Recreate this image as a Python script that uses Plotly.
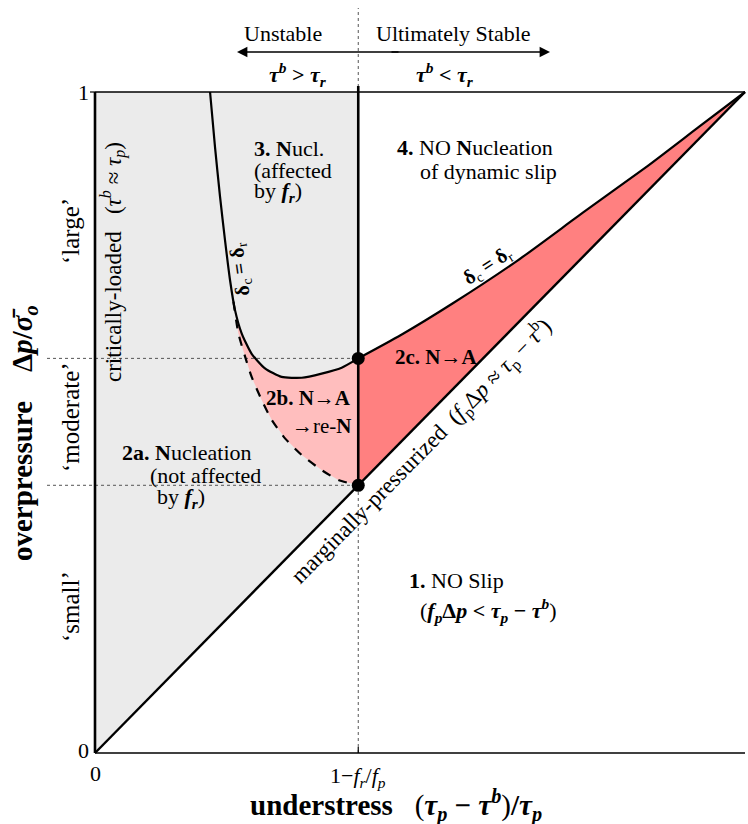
import plotly.graph_objects as go

# ---------------- data ----------------
x_split = 0.405          # 1 - f_r/f_p
y_mid_pt = 0.597         # upper junction point (delta_c = delta_r meets x_split)
y_low_pt = 0.405         # lower junction point (on the diagonal)

# delta_c = delta_r curve, unstable side (solid)
crit_x = [0.177, 0.1846, 0.1923, 0.2, 0.2077, 0.2154, 0.2256, 0.241, 0.2615, 0.287, 0.318, 0.3487, 0.3795, 0.405]
crit_y = [1.0, 0.917, 0.842, 0.776, 0.7156, 0.670, 0.635, 0.604, 0.582, 0.569, 0.5677, 0.574, 0.583, 0.597]

# delta_c = delta_r curve, stable side (solid)
right_x = [0.405, 0.47, 0.55, 0.65, 0.75, 0.85, 0.93, 1.0]
right_y = [0.597, 0.632, 0.68, 0.745, 0.817, 0.888, 0.948, 1.0]

# dashed boundary (2a / 2b)
dash_x = [0.213, 0.2205, 0.2308, 0.241, 0.2564, 0.2718, 0.2923, 0.318, 0.3487, 0.3744, 0.405]
dash_y = [0.683, 0.635, 0.600, 0.569, 0.534, 0.504, 0.476, 0.4508, 0.428, 0.413, 0.405]

# diagonal (marginally pressurized)
diag_x = [0.0, 1.0]
diag_y = [0.0, 1.0]

FONT = "Liberation Serif"
GRAY = "#EBEBEB"
PINK_L = "#FFBEBE"
PINK_D = "#FF8080"

# pixel -> data helpers for text placement
def X(px):
    return (px - 95) / 650.0

def Y(py):
    return (753 - py) / 661.0

fig = go.Figure()

# ---------------- fills ----------------
fig.add_trace(go.Scatter(
    x=[0, 0, x_split, x_split, 0], y=[0, 1, 1, x_split, 0],
    fill="toself", fillcolor=GRAY, line=dict(width=0), mode="lines", hoverinfo="skip"))

b_x = [dash_x[0]] + [cx for cx, cy in zip(crit_x, crit_y) if cy < dash_y[0]]
b_y = [dash_y[0]] + [cy for cy in crit_y if cy < dash_y[0]]
b_x += [x_split] + dash_x[::-1]
b_y += [y_low_pt] + dash_y[::-1]
fig.add_trace(go.Scatter(x=b_x, y=b_y, fill="toself", fillcolor=PINK_L,
                         line=dict(width=0), mode="lines", hoverinfo="skip"))

c_x = [x_split] + right_x + [x_split]
c_y = [y_low_pt] + right_y + [y_low_pt]
fig.add_trace(go.Scatter(x=c_x, y=c_y, fill="toself", fillcolor=PINK_D,
                         line=dict(width=0), mode="lines", hoverinfo="skip"))

# ---------------- dotted guide lines ----------------
dot = dict(color="#555555", width=1, dash="dot")
fig.add_trace(go.Scatter(x=[x_split, x_split], y=[0, Y(8)], mode="lines", line=dot, hoverinfo="skip"))
fig.add_trace(go.Scatter(x=[X(47), x_split], y=[y_mid_pt, y_mid_pt], mode="lines", line=dot, hoverinfo="skip"))
fig.add_trace(go.Scatter(x=[X(47), x_split], y=[y_low_pt, y_low_pt], mode="lines", line=dot, hoverinfo="skip"))

# ---------------- solid frame lines ----------------
blk = "black"
fig.add_trace(go.Scatter(x=[0, 1], y=[1, 1], mode="lines", line=dict(color=blk, width=1.6), hoverinfo="skip"))
fig.add_trace(go.Scatter(x=[0, 1], y=[0, 0], mode="lines", line=dict(color=blk, width=1.6), hoverinfo="skip"))
fig.add_trace(go.Scatter(x=[0, 0], y=[0, 1], mode="lines", line=dict(color=blk, width=2.6), hoverinfo="skip"))
fig.add_trace(go.Scatter(x=diag_x, y=diag_y, mode="lines", line=dict(color=blk, width=2.4), hoverinfo="skip"))
fig.add_trace(go.Scatter(x=[x_split, x_split], y=[y_low_pt, Y(86)], mode="lines",
                         line=dict(color=blk, width=2.6), hoverinfo="skip"))
# small ticks
fig.add_trace(go.Scatter(x=[x_split, x_split], y=[0, Y(747)], mode="lines", line=dict(color=blk, width=1.2), hoverinfo="skip"))
fig.add_trace(go.Scatter(x=[X(90), 0], y=[1, 1], mode="lines", line=dict(color=blk, width=1.2), hoverinfo="skip"))

# ---------------- curves ----------------
fig.add_trace(go.Scatter(x=crit_x, y=crit_y, mode="lines",
                         line=dict(color=blk, width=2.2, shape="spline", smoothing=0.6), hoverinfo="skip"))
fig.add_trace(go.Scatter(x=right_x, y=right_y, mode="lines",
                         line=dict(color=blk, width=2.2, shape="spline", smoothing=0.6), hoverinfo="skip"))
fig.add_trace(go.Scatter(x=dash_x, y=dash_y, mode="lines",
                         line=dict(color=blk, width=2.2, dash="dash", shape="spline", smoothing=0.6), hoverinfo="skip"))

# junction points
fig.add_trace(go.Scatter(x=[x_split, x_split], y=[y_mid_pt, y_low_pt], mode="markers",
                         marker=dict(color=blk, size=13), hoverinfo="skip"))

# ---------------- annotations ----------------
ann = []

def T(px, py, text, size=22, xanchor="center", angle=0, color="black"):
    ann.append(dict(x=X(px), y=Y(py), xref="x", yref="y", text=text, showarrow=False,
                    xanchor=xanchor, yanchor="middle", textangle=angle,
                    font=dict(family=FONT, size=size, color=color)))

def bi(s):
    return "<b><i>" + s + "</i></b>"

# top labels
T(283, 33, "Unstable")
T(453, 33, "Ultimately Stable")
T(298, 74, bi("τ") + "<sup>" + bi("b") + "</sup><b> > </b>" + bi("τ") + "<sub>" + bi("r") + "</sub>")
T(445, 74, bi("τ") + "<sup>" + bi("b") + "</sup><b> < </b>" + bi("τ") + "<sub>" + bi("r") + "</sub>")

# double arrow
ann.append(dict(x=X(237), y=Y(52), ax=X(400), ay=Y(52), xref="x", yref="y", axref="x", ayref="y",
                text="", showarrow=True, arrowhead=2, arrowsize=1.3, arrowwidth=1.6, arrowcolor="black"))
ann.append(dict(x=X(550), y=Y(52), ax=X(390), ay=Y(52), xref="x", yref="y", axref="x", ayref="y",
                text="", showarrow=True, arrowhead=2, arrowsize=1.3, arrowwidth=1.6, arrowcolor="black"))

# region labels
T(252, 148, "<b>3. N</b>ucl.", xanchor="left")
T(252, 170, "(affected", xanchor="left")
T(252, 192, "by " + bi("f") + "<sub>" + bi("r") + "</sub>)", xanchor="left")

T(395, 147, "<b>4.</b> NO <b>N</b>ucleation", xanchor="left")
T(418, 171, "of dynamic slip", xanchor="left")

T(436, 357, "<b>2c. N→A</b>", size=21)
T(353, 398, "<b>2b. N→A</b>", size=21, xanchor="right")
T(353, 426, "→re-<b>N</b>", size=21, xanchor="right")

T(120, 452, "<b>2a. N</b>ucleation", xanchor="left")
T(148, 475, "(not affected", xanchor="left")
T(155, 498, "by " + bi("f") + "<sub>" + bi("r") + "</sub>)", xanchor="left")

T(407, 580, "<b>1.</b> NO Slip", xanchor="left")
T(418, 610, "(" + bi("f") + "<sub>" + bi("p") + "</sub><b>Δ</b>" + bi("p") + "<b> < </b>" + bi("τ")
  + "<sub>" + bi("p") + "</sub><b> − </b>" + bi("τ") + "<sup>" + bi("b") + "</sup>)", xanchor="left")

# curve / line labels
T(487, 266, "<b>δ</b><sub>c</sub><b> = δ</b><sub>r</sub>", size=20, angle=-33)
T(240, 270, "<b>δ</b><sub>c</sub><b> = δ</b><sub>r</sub>", size=20, angle=-98)
T(421, 451, "marginally-pressurized  (" + "<i>f</i><sub>p</sub>Δ<i>p</i> ≈ <i>τ</i><sub>p</sub> − <i>τ</i><sup>b</sup>)",
  size=23, angle=-45.5)
T(113, 262, "critically-loaded   (<i>τ</i><sup><i>b</i></sup> ≈ <i>τ</i><sub><i>p</i></sub>)", size=23, angle=-90)

# overpressure categories
T(70, 231, "‘large’", size=25, angle=-90)
T(70, 417, "‘moderate’", size=25, angle=-90)
T(70, 607, "‘small’", size=25, angle=-90)

# ticks
T(91, 92, "1", xanchor="right")
T(91, 750, "0", xanchor="right")
T(95, 773, "0")
T(358, 777, "1−" + "<i>f</i><sub><i>r</i></sub>/<i>f</i><sub><i>p</i></sub>")

# axis titles
T(396, 805, "<b>understress</b>   (" + bi("τ") + "<sub>" + bi("p") + "</sub><b> − </b>" + bi("τ")
  + "<sup>" + bi("b") + "</sup>)<b>/</b>" + bi("τ") + "<sub>" + bi("p") + "</sub>", size=29)
T(24, 433, "<b>overpressure</b>    <b>Δ</b>" + bi("p") + "<b>/</b>" + bi("σ̄") + "<sub>" + bi("o") + "</sub>",
  size=29, angle=-90)

fig.update_layout(
    width=748, height=824,
    margin=dict(l=0, r=0, t=0, b=0),
    paper_bgcolor="white", plot_bgcolor="white",
    showlegend=False,
    xaxis=dict(range=[X(0), X(748)], visible=False, fixedrange=True),
    yaxis=dict(range=[Y(824), Y(0)], visible=False, fixedrange=True),
    annotations=ann,
)

fig.write_html("out.html", config={"displayModeBar": False},
               post_script="document.body.style.margin='0px';")
